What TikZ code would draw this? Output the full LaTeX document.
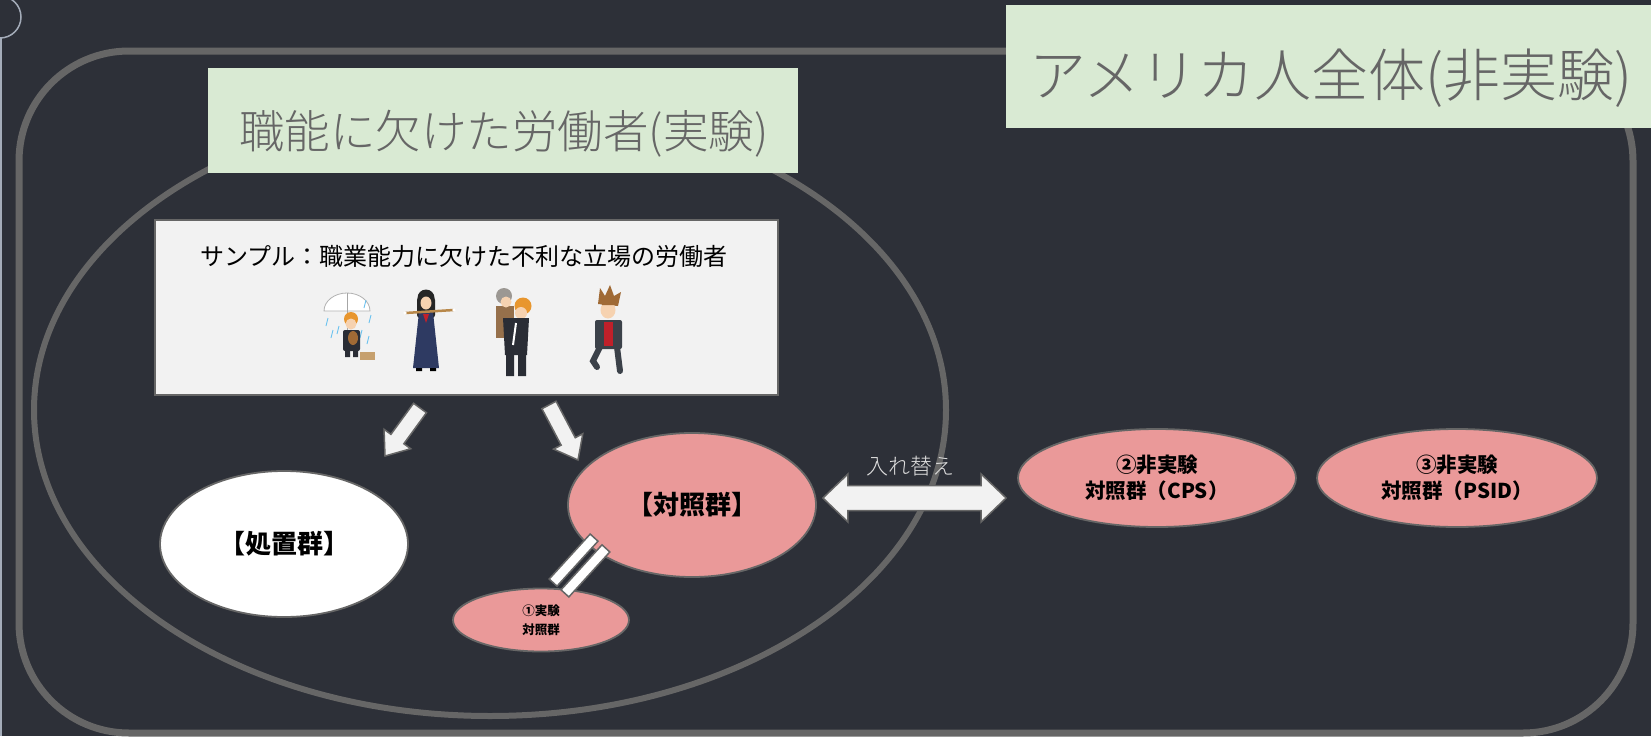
\documentclass[tikz,border=0pt]{standalone}
\usepackage{fontspec}
\setmainfont{Noto Sans CJK JP}
\newfontfamily\lightjp{Noto Sans CJK JP Light}
\usetikzlibrary{shapes.geometric,calc}

\definecolor{bg}{HTML}{2D3038}
\definecolor{frame}{HTML}{666666}
\definecolor{mint}{HTML}{D9EAD3}
\definecolor{panel}{HTML}{F2F2F2}
\definecolor{rose}{HTML}{EA9999}
\definecolor{pale}{HTML}{DDDDDD}
\definecolor{edgeline}{HTML}{A4ACB9}
\definecolor{skin}{HTML}{F6D2B0}
\definecolor{suit}{HTML}{2A2D35}
\definecolor{navy}{HTML}{2E3A62}
\definecolor{blond}{HTML}{E8962E}
\definecolor{grayhair}{HTML}{9C9893}
\definecolor{fur}{HTML}{A06A35}
\definecolor{jacket}{HTML}{3B4149}
\definecolor{shirt}{HTML}{C0202A}
\definecolor{rain}{HTML}{6FC3EF}
\definecolor{wood}{HTML}{B8884A}

% block arrow from #1 to #2: shaft half width #3, head half width #4, head length #5
\newcommand\onehead[5]{%
  \path[blockarrow] let \p1=($(#2)-(#1)$), \n1={atan2(\y1,\x1)}, \n2={veclen(\x1,\y1)} in
    {[shift={(#1)}, rotate=\n1]
      (0,#3) -- (\n2-#5,#3) -- (\n2-#5,#4) -- (\n2,0) -- (\n2-#5,-#4)
      -- (\n2-#5,-#3) -- (0,-#3) -- cycle};}
% block arrow with heads on both ends
\newcommand\twoheads[5]{%
  \path[blockarrow] let \p1=($(#2)-(#1)$), \n1={atan2(\y1,\x1)}, \n2={veclen(\x1,\y1)} in
    {[shift={(#1)}, rotate=\n1]
      (0,0) -- (#5,#4) -- (#5,#3) -- (\n2-#5,#3) -- (\n2-#5,#4) -- (\n2,0)
      -- (\n2-#5,-#4) -- (\n2-#5,-#3) -- (#5,-#3) -- (#5,-#4) -- cycle};}
% equal-sign link: two parallel bars from #1 to #2
\newcommand\eqbars[2]{%
  \path[blockarrow, fill=white] let \p1=($(#2)-(#1)$), \n1={atan2(\y1,\x1)}, \n2={veclen(\x1,\y1)} in
    {[shift={(#1)}, rotate=\n1]
      (0,2.7) rectangle (\n2,13.3) (0,-2.7) rectangle (\n2,-13.3)};}

\begin{document}
\begin{tikzpicture}[x=1pt, y=-1pt,
  tagbox/.style={fill=mint, draw=none, inner sep=0pt, outer sep=0pt},
  tagtext/.style={text=frame, inner sep=0pt},
  panelbox/.style={fill=panel, draw=frame, line width=1.8pt, inner sep=0pt},
  group/.style={ellipse, draw=frame, line width=1.8pt, fill=rose, inner sep=0pt,
    align=center, text=black},
  blockarrow/.style={fill=panel, draw=frame, line width=1.5pt, line join=miter},
]
\useasboundingbox (0,0) rectangle (1651,736);
\clip (0,0) rectangle (1651,736);
\fill[bg] (0,0) rectangle (1651,736);

% page marker at the left edge
\draw[edgeline, line width=1.5pt] (0,17) circle (21pt);
\draw[edgeline, line width=1.5pt] (1,38) -- (1,736);

% whole population frame and experimental sample ellipse
\draw[frame, line width=7pt, rounded corners=110pt] (19,51) rectangle (1633,733);
\draw[frame, line width=6pt] (490,410) ellipse [x radius=456pt, y radius=306pt];

% headings
\node[tagbox, anchor=north west, minimum width=590pt, minimum height=105pt] (t1box) at (208,68) {};
\node[tagtext, font=\lightjp\fontsize{45.5pt}{52pt}\selectfont] (t1) at (504,134) {職能に欠けた労働者(実験)};
\node[tagbox, anchor=north west, minimum width=660pt, minimum height=123pt] (t2box) at (1006,5) {};
\node[tagtext, font=\lightjp\fontsize{57pt}{64pt}\selectfont] (t2) at (1331,78) {アメリカ人全体(非実験)};

% sample panel
\node[panelbox, anchor=north west, minimum width=623pt, minimum height=175pt] (sample) at (154,219) {};
\node[font=\fontsize{24pt}{28pt}\selectfont, text=black, inner sep=0pt] (sampletxt) at (464,256)
  {サンプル：職業能力に欠けた不利な立場の労働者};

% --- figures in the panel ---
% man under umbrella
\filldraw[fill=white, draw=gray!60, line width=0.8pt] (324,311) arc[start angle=180, end angle=0, x radius=23pt, y radius=18pt] -- cycle;
\draw[gray!70, line width=0.8pt] (347,293) -- (347,340);
\foreach \a/\b in {328/318, 333/330, 366/300, 371/315, 362/330, 339/326, 369/336}
  \draw[rain, line width=0.9pt] (\a,\b) -- (\a-2,\b+8);
\fill[blond] (351,319) circle (7pt);
\fill[skin] (351,324) circle (5.5pt);
\fill[suit, rounded corners=2pt] (343,330) rectangle (360,351);
\fill[fur] (353,338) ellipse (5pt and 7pt);
\fill[suit] (345,350) rectangle (350,357) (353,350) rectangle (358,357);
\fill[wood!80!white] (360,352) rectangle (375,360);
% girl with bat
\fill[black!85, rounded corners=3pt] (417,297) rectangle (435,318);
\fill[black!85] (426,298) circle (8.5pt);
\fill[skin] (426,303) ellipse (5.5pt and 6.5pt);
\fill[navy] (419,312) -- (433,312) -- (439,368) -- (413,368) -- cycle;
\fill[shirt] (423,314) -- (429,314) -- (426,323) -- cycle;
\draw[wood, line width=2.5pt, line cap=round] (405,313) -- (454,310);
\fill[white] (405,313) circle (1.8pt) (454,310) circle (1.8pt);
\fill[black] (416,368) rectangle (422,371) (430,368) rectangle (436,371);
% man carrying an old woman
\fill[fur!70!gray] (496,306) rectangle (514,338);
\fill[grayhair] (504,296) circle (8pt);
\fill[skin] (506,302) circle (5.5pt);
\fill[blond] (523,306) circle (8.5pt);
\fill[skin] (521,313) circle (6pt);
\fill[suit] (503,318) -- (529,318) -- (527,355) -- (505,355) -- cycle;
\draw[white, line width=2pt] (516,323) -- (513,345);
\fill[suit] (506,354) rectangle (514,376) (518,354) rectangle (526,376);
% young man walking
\fill[fur] (598,304) -- (600,288) -- (605,296) -- (610,285) -- (614,296) -- (621,292) -- (618,306) -- cycle;
\fill[skin] (608,310) ellipse (7.5pt and 8.5pt);
\fill[fur] (600,300) -- (616,300) -- (614,305) -- (602,305) -- cycle;
\fill[jacket, rounded corners=2pt] (595,320) rectangle (622,349);
\fill[shirt] (604,322) rectangle (613,346);
\draw[jacket, line width=6pt, line cap=round] (600,347) -- (593,361) -- (597,367);
\draw[jacket, line width=6pt, line cap=round] (617,347) -- (620,371);

% groups
\node[group, fill=white, minimum width=248pt, minimum height=146pt,
  font=\bfseries\fontsize{26pt}{30pt}\selectfont] (treat) at (284,544) {【処置群】};
\node[group, minimum width=248pt, minimum height=144pt,
  font=\bfseries\fontsize{26pt}{30pt}\selectfont] (ctrl) at (692,505) {【対照群】};
\node[group, minimum width=176pt, minimum height=63pt,
  font=\bfseries\fontsize{12.5pt}{19pt}\selectfont] (exp) at (541,620) {①実験\\対照群};
\node[group, minimum width=278pt, minimum height=98pt,
  font=\bfseries\fontsize{20.5pt}{26pt}\selectfont] (cps) at (1157,478) {②非実験\\対照群（CPS）};
\node[group, minimum width=280pt, minimum height=98pt,
  font=\bfseries\fontsize{20.5pt}{26pt}\selectfont] (psid) at (1457,478) {③非実験\\対照群（PSID）};

% assignment arrows from the sample
\coordinate (toTreatA) at (420,408);
\coordinate (toTreatB) at (385,456);
\coordinate (toCtrlA) at (549,405);
\coordinate (toCtrlB) at (578,460);
\onehead{toTreatA}{toTreatB}{8}{16.5}{21}
\onehead{toCtrlA}{toCtrlB}{8}{16.5}{21}

% link between the control group and the experimental control group
\coordinate (linkA) at (600,543);
\coordinate (linkB) at (559,588);
\eqbars{linkA}{linkB}

% swap between experimental and non-experimental controls
\coordinate (swapA) at ($(ctrl.east)+(6,-7)$);
\coordinate (swapB) at ($(cps.west)+(-11,20)$);
\twoheads{swapA}{swapB}{12.5}{24}{25}
\node[text=pale, font=\lightjp\fontsize{22pt}{26pt}\selectfont, inner sep=0pt] (swaplbl) at (910,466) {入れ替え};
\end{tikzpicture}
\end{document}
